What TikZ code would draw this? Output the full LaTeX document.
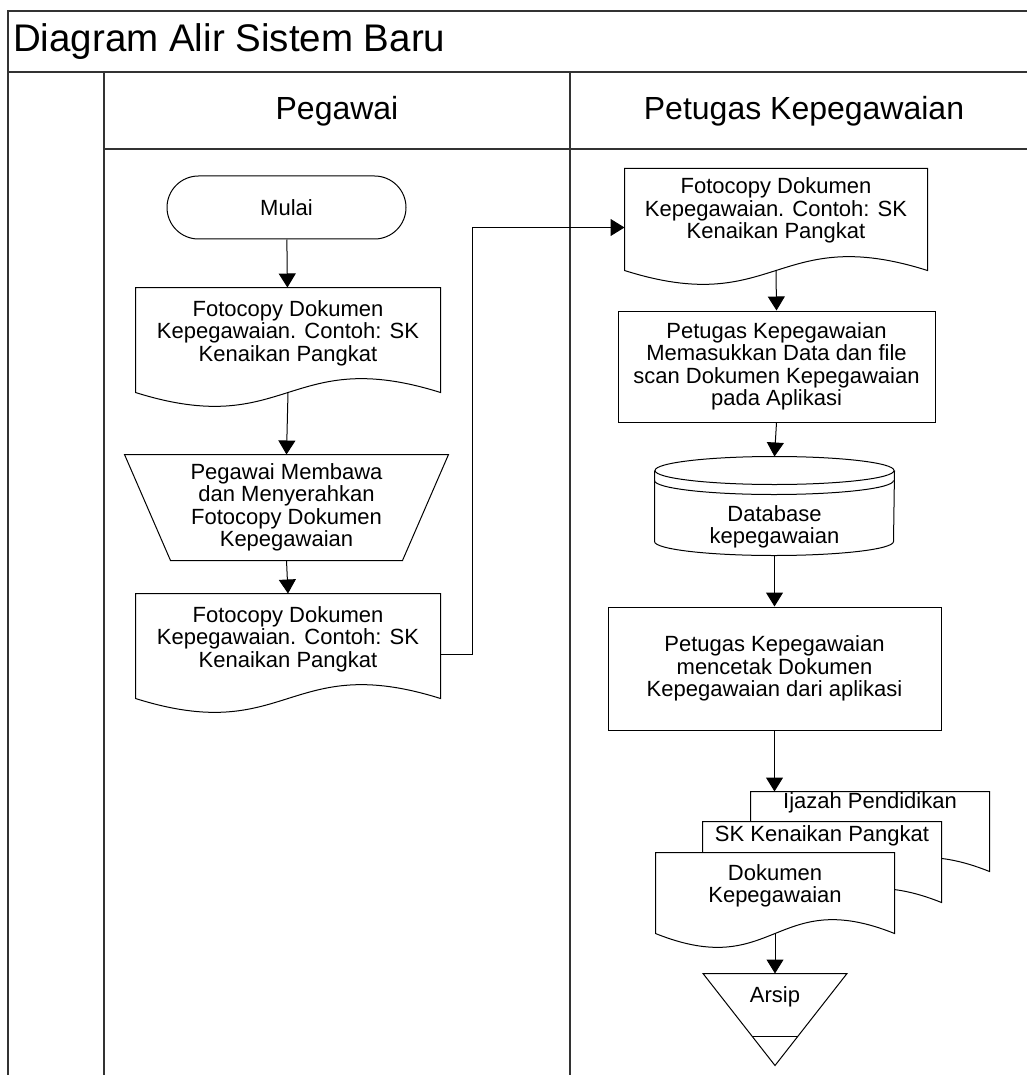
\documentclass[tikz,border=0pt]{standalone}
\usepackage{fontspec}
\setmainfont{Liberation Sans}
\usetikzlibrary{arrows.meta,shapes.misc,calc}

\tikzset{
  frame/.style={draw=black!80, line width=1.2pt},
  flow/.style={draw, line width=1pt, -{Triangle[width=17pt,length=14pt]}},
  lbl/.style={align=center, font=\fontsize{22}{22.5}\selectfont, inner sep=0pt},
  shp/.style={rectangle, inner sep=0pt, line width=1pt},
  procbox/.style={shp, draw, lbl},
  lanehead/.style={font=\fontsize{32}{32}\selectfont, inner sep=0pt},
}

% document outline with wavy bottom, node spans top edge to wave mid-line
\newcommand{\docoutline}[2][]{%
  \draw[line width=1pt,#1] (#2.south west) -- (#2.north west) -- (#2.north east) -- (#2.south east)
    .. controls ([yshift=48pt]#2.south) and ([yshift=-48pt]#2.south) .. (#2.south west) -- cycle;}

\begin{document}
\begin{tikzpicture}[x=1pt,y=-1pt]
  \useasboundingbox (0,0) rectangle (1027,1075);

  % frame and swimlanes
  \draw[frame] (8,1075) -- (8,11) -- (1027,11);
  \draw[frame] (8,72) -- (1027,72);
  \draw[frame] (104,1075) -- (104,72);
  \draw[frame] (570,1075) -- (570,72);
  \draw[frame] (104,149) -- (1027,149);
  \node[anchor=west, font=\fontsize{38.5}{38.5}\selectfont, inner sep=0pt] (ttl) at (13,42) {Diagram Alir Sistem Baru};
  \node[lanehead] (peg) at (337,111) {Pegawai};
  \node[lanehead] (ptg) at (804,111) {Petugas Kepegawaian};

  % lane Pegawai
  \node[rounded rectangle, draw, line width=1pt, lbl, minimum width=239pt, minimum height=63pt] (mulai) at (286.5,207.5) {Mulai};
  \node[shp, minimum width=304pt, minimum height=104pt,
    label={[lbl,name=fc1t,yshift=7pt]center:{Fotocopy Dokumen\\Kepegawaian. Contoh: SK\\Kenaikan Pangkat}}] (fc1) at (288,340) {};
  \docoutline{fc1}
  \node[shp, lbl, minimum width=323pt, minimum height=105pt] (trap) at (286.5,507.5)
    {Pegawai Membawa\\dan Menyerahkan\\Fotocopy Dokumen\\Kepegawaian};
  \draw[line width=1pt] (trap.north west) -- (trap.north east) -- ([xshift=-46pt]trap.south east)
    -- ([xshift=46pt]trap.south west) -- cycle;
  \node[shp, minimum width=304pt, minimum height=104pt,
    label={[lbl,name=fc2t,yshift=7pt]center:{Fotocopy Dokumen\\Kepegawaian. Contoh: SK\\Kenaikan Pangkat}}] (fc2) at (288,646) {};
  \docoutline{fc2}

  % lane Petugas Kepegawaian
  \node[shp, minimum width=302pt, minimum height=101pt,
    label={[lbl,name=fc3t,yshift=9pt]center:{Fotocopy Dokumen\\Kepegawaian. Contoh: SK\\Kenaikan Pangkat}}] (fc3) at (776,219.5) {};
  \docoutline{fc3}
  \node[procbox, minimum width=317pt, minimum height=111pt] (input) at (776.5,366.5)
    {Petugas Kepegawaian\\Memasukkan Data dan file\\scan Dokumen Kepegawaian\\pada Aplikasi};
  \node[shp, minimum width=239pt, minimum height=98pt,
    label={[lbl,name=dbt,yshift=-21pt]center:{Database\\kepegawaian}}] (db) at (774.5,506) {};
  \draw[line width=1pt] ([yshift=-14pt]db.north) ellipse [x radius=119.5pt, y radius=14pt];
  \draw[line width=1pt] ([yshift=-24pt]db.north west) arc [start angle=180, end angle=360, x radius=119.5pt, y radius=14pt];
  \draw[line width=1pt] ([yshift=-14pt]db.north west) -- ([yshift=14pt]db.south west)
    arc [start angle=180, end angle=360, x radius=119.5pt, y radius=14pt] -- ([yshift=-14pt]db.north east);
  \node[procbox, minimum width=333pt, minimum height=123pt] (cetak) at (774.5,668.5)
    {Petugas Kepegawaian\\mencetak Dokumen\\Kepegawaian dari aplikasi};

  % stacked documents, back to front
  \node[shp, minimum width=238pt, minimum height=79pt] (ijz) at (870,831.5) {};
  \docoutline[fill=white]{ijz}
  \node[lbl] (ijzt) at ([yshift=28.5pt]ijz.center) {Ijazah Pendidikan};
  \node[shp, minimum width=238pt, minimum height=80pt] (skp) at (822,862) {};
  \docoutline[fill=white]{skp}
  \node[lbl] (skpt) at ([yshift=26pt]skp.center) {SK Kenaikan Pangkat};
  \node[shp, minimum width=238pt, minimum height=80pt] (dok) at (775,893) {};
  \docoutline[fill=white]{dok}
  \node[lbl] (dokt) at ([yshift=7pt]dok.center) {Dokumen\\Kepegawaian};

  \node[shp, minimum width=143pt, minimum height=91pt,
    label={[lbl,name=arsipt,yshift=22.5pt]center:{Arsip}}] (arsip) at (775,1019.5) {};
  \draw[line width=1pt] (arsip.north west) -- (arsip.north east) -- (arsip.south) -- cycle;
  \draw[line width=1pt] ($(arsip.north west)!0.681!(arsip.south)$) -- ($(arsip.north east)!0.681!(arsip.south)$);

  % flows
  \draw[flow] (mulai) -- (fc1);
  \draw[flow] (fc1.south) -- (trap.north);
  \draw[flow] (trap.south) -- (fc2.north);
  \draw[flow] ([yshift=-8pt]fc2.east) -- ++(32,0) |- ([yshift=-8pt]fc3.west);
  \draw[flow] (fc3.south) -- (input.north);
  \draw[flow] (input.south) -- (db.north);
  \draw[flow] (db.south) -- (cetak.north);
  \draw[flow] (cetak.south) -- (cetak.south |- ijz.north);
  \draw[flow] (dok.south) -- (arsip.north);
\end{tikzpicture}
\end{document}
